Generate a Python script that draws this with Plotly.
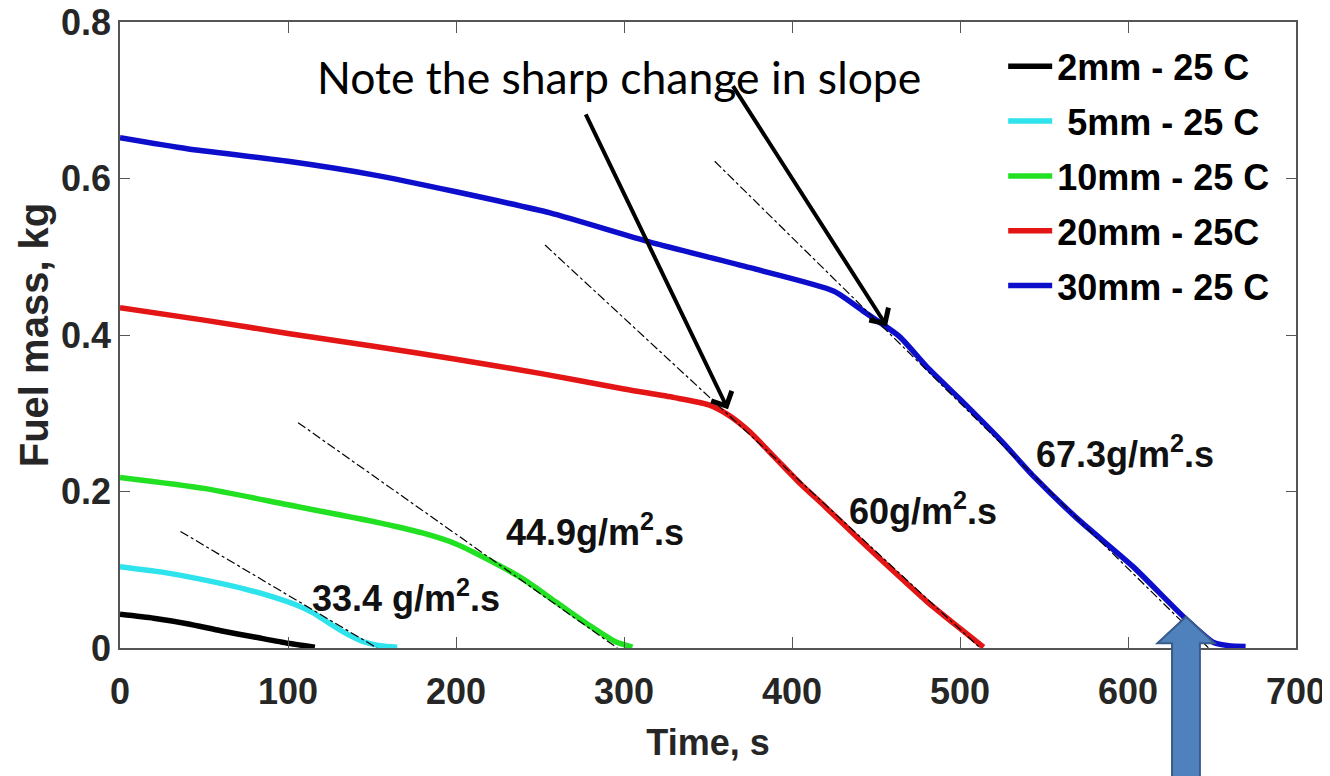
import plotly.graph_objects as go

# ---------------- data ----------------
t_2mm = [0, 20, 40, 60, 80, 100, 116]
m_2mm = [0.043, 0.038, 0.031, 0.022, 0.014, 0.006, 0.001]

t_5mm = [0, 25, 50, 75, 90, 105, 115, 125, 135, 145, 155, 165]
m_5mm = [0.104, 0.097, 0.087, 0.075, 0.066, 0.055, 0.045, 0.031, 0.018, 0.008, 0.003, 0.001]

t_10mm = [0, 50, 100, 150, 180, 200, 220, 240, 260, 280, 295, 305]
m_10mm = [0.218, 0.204, 0.183, 0.162, 0.147, 0.133, 0.112, 0.088, 0.058, 0.028, 0.008, 0.001]

t_20mm = [0, 50, 100, 150, 200, 250, 300, 330, 350, 362, 375, 390, 405, 420, 440, 460, 480, 500, 514]
m_20mm = [0.435, 0.419, 0.402, 0.386, 0.369, 0.351, 0.331, 0.320, 0.311, 0.298, 0.276, 0.243, 0.210,
          0.180, 0.139, 0.099, 0.060, 0.025, 0.001]

t_30mm = [0, 40, 100, 150, 200, 256, 315, 375, 425, 444, 464, 480, 500, 524, 544, 570, 603, 633,
          651, 660, 670]
m_30mm = [0.652, 0.638, 0.622, 0.605, 0.583, 0.556, 0.519, 0.486, 0.456, 0.428, 0.398, 0.360, 0.318,
          0.266, 0.219, 0.165, 0.104, 0.040, 0.007, 0.003, 0.002]

series_names = ["2mm - 25 C", " 5mm - 25 C", "10mm - 25 C", "20mm - 25C", "30mm - 25 C"]
series_colors = ["#000000", "#2fe3ec", "#22e022", "#e31515", "#0d0dcc"]

# tangent (dash-dot) lines: [t_start, t_end], [m_start, m_end]
tan_5mm = ([36, 153], [0.149, 0.0])
tan_10mm = ([106, 296], [0.288, 0.0])
tan_20mm = ([253, 512], [0.515, 0.0])
tan_30mm = ([354, 648], [0.622, 0.0])

rate_labels = ["33.4 g/m<sup>2</sup>.s", "44.9g/m<sup>2</sup>.s", "60g/m<sup>2</sup>.s", "67.3g/m<sup>2</sup>.s"]
rate_t = [170, 283, 478, 598]
rate_m = [0.067, 0.151, 0.178, 0.251]

note_text = "Note the sharp change in slope"
note_pos = (297, 0.730)
# arrows: (tail_t, tail_m, tip_t, tip_m)
note_arrows = [(276.8, 0.684, 361.9, 0.305), (364.3, 0.720, 456.5, 0.411)]

# block arrow pointing to end of the 30 mm linear regime
block_tip = (634.5, 0.040)

x_range = [0, 700]
y_range = [0, 0.8]
x_ticks = [0, 100, 200, 300, 400, 500, 600, 700]
y_ticks = [0, 0.2, 0.4, 0.6, 0.8]

BOLD = "Liberation Sans, Arial"

fig = go.Figure()

for i, (t, m, name, col) in enumerate(zip([t_2mm, t_5mm, t_10mm, t_20mm, t_30mm],
                                          [m_2mm, m_5mm, m_10mm, m_20mm, m_30mm],
                                          series_names, series_colors)):
    fig.add_trace(go.Scatter(x=t, y=m, mode="lines", name=name, legendgroup=f"g{i}",
                             line=dict(color=col, width=5.5, shape="spline", smoothing=0.6)))

for tt, mm in [tan_5mm, tan_10mm, tan_20mm, tan_30mm]:
    fig.add_trace(go.Scatter(x=tt, y=mm, mode="lines", showlegend=False, hoverinfo="skip",
                             line=dict(color="black", width=1.2, dash="dashdot")))

annotations = []
for txt, tx, my in zip(rate_labels, rate_t, rate_m):
    annotations.append(dict(x=tx, y=my, xref="x", yref="y", text=txt, showarrow=False,
                            font=dict(family=BOLD, size=36, color="#111111", weight="bold")))

annotations.append(dict(x=note_pos[0], y=note_pos[1], xref="x", yref="y", text=note_text,
                        showarrow=False, font=dict(family="Lato, Open Sans", size=44.5, color="black")))
for (ta, ma, tb, mb) in note_arrows:
    annotations.append(dict(x=tb, y=mb, ax=ta, ay=ma, xref="x", yref="y", axref="x", ayref="y",
                            text="", showarrow=True, arrowhead=4, arrowsize=1.1, arrowwidth=4,
                            arrowcolor="black", standoff=0))

# block arrow as a paper-referenced path built from data coordinates
def to_paper(t, m):
    return (t - x_range[0]) / (x_range[1] - x_range[0]), (m - y_range[0]) / (y_range[1] - y_range[0])

tip_t, tip_m = block_tip
pts = [(tip_t, tip_m), (tip_t + 17, 0.006), (tip_t + 8.3, 0.006), (tip_t + 8.3, -0.20),
       (tip_t - 8.3, -0.20), (tip_t - 8.3, 0.006), (tip_t - 17, 0.006)]
pp = [to_paper(a, b) for a, b in pts]
path = "M " + " L ".join(f"{px:.5f},{py:.5f}" for px, py in pp) + " Z"

fig.update_layout(
    width=1322, height=768,
    margin=dict(l=112, r=34, t=14, b=127.5, autoexpand=False),
    paper_bgcolor="white", plot_bgcolor="white",
    showlegend=True,
    legend=dict(x=0.751, y=0.977, xanchor="left", yanchor="top", bgcolor="rgba(255,255,255,0)",
                font=dict(family=BOLD, size=36, color="black", weight="bold"),
                itemwidth=44, tracegroupgap=5),
    annotations=annotations,
    shapes=[dict(type="path", path=path, xref="paper", yref="paper", layer="above",
                 fillcolor="#4F81BD", line=dict(color="#385D8A", width=2))],
    xaxis=dict(range=x_range, tickvals=x_ticks, ticks="inside", ticklen=11, tickwidth=1,
               tickcolor="#555555", showline=True, linecolor="#555555", linewidth=1.5, mirror="ticks",
               showgrid=False, zeroline=False, ticklabelstandoff=11, automargin=False,
               ticklabeloverflow="allow",
               tickfont=dict(family=BOLD, size=36, color="#262626", weight="bold"),
               title=dict(text="Time, s", standoff=19,
                          font=dict(family=BOLD, size=36, color="#262626", weight="bold"))),
    yaxis=dict(range=y_range, tickvals=y_ticks, ticks="inside", ticklen=10, tickwidth=1,
               tickcolor="#555555", showline=True, linecolor="#555555", linewidth=1.5, mirror="ticks",
               showgrid=False, zeroline=False, ticklabelstandoff=0, automargin=False,
               ticklabeloverflow="allow",
               tickfont=dict(family=BOLD, size=36, color="#262626", weight="bold"),
               title=dict(text="Fuel mass, kg", standoff=0,
                          font=dict(family=BOLD, size=40, color="#262626", weight="bold"))),
)

fig.write_html("out.html")
